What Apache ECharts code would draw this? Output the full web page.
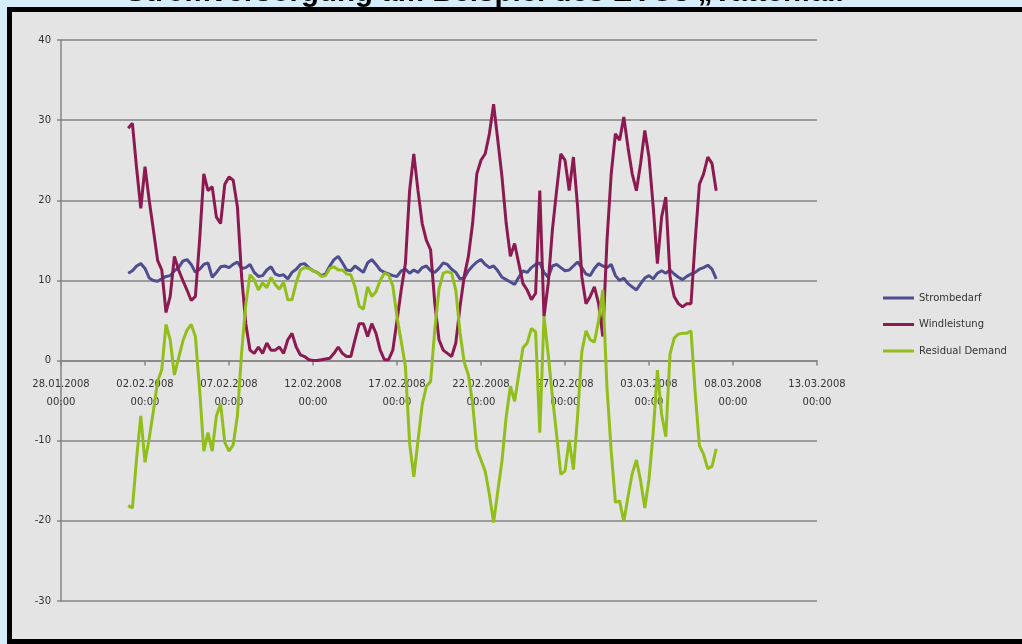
<!DOCTYPE html>
<html>
<head>
<meta charset="utf-8">
<title>Stromversorgung am Beispiel des EVUs „Vattenfall“</title>
<script src="https://cdn.jsdelivr.net/npm/echarts@6/dist/echarts.min.js"></script>
<style>
  html, body { margin: 0; padding: 0; background: #d5edfb; }
  #chart { width: 1022px; height: 644px; }
</style>
</head>
<body>
<div id="chart"></div>
<script>
// Time axis: days counted from 28.01.2008 00:00, one tick every 5 days
const tickLabels = [
  '28.01.2008\n00:00', '02.02.2008\n00:00', '07.02.2008\n00:00', '12.02.2008\n00:00',
  '17.02.2008\n00:00', '22.02.2008\n00:00', '27.02.2008\n00:00', '03.03.2008\n00:00',
  '08.03.2008\n00:00', '13.03.2008\n00:00'
];
const seriesStartDay = 4;   // 01.02.2008 00:00
const stepDays = 0.25;      // one value every 6 hours

// Strombedarf (GW)
const strombedarf = [
  10.9, 11.2, 11.8, 12.1, 11.5, 10.3, 10.0, 9.9, 10.2, 10.5, 10.6, 11.2, 11.6, 12.4, 12.6, 12.0,
  11.0, 11.4, 12.0, 12.2, 10.4, 11.0, 11.7, 11.8, 11.6, 12.0, 12.3, 11.5, 11.6, 12.0, 11.0, 10.5,
  10.6, 11.3, 11.7, 10.8, 10.6, 10.7, 10.2, 11.0, 11.4, 12.0, 12.1, 11.6, 11.2, 11.0, 10.6, 10.8,
  11.8, 12.6, 13.0, 12.2, 11.3, 11.2, 11.8, 11.4, 11.0, 12.2, 12.6, 12.0, 11.3, 11.0, 10.8, 10.6,
  10.5, 11.2, 11.4, 10.9, 11.3, 11.0, 11.6, 11.8, 11.2, 11.0, 11.5, 12.2, 12.0, 11.4, 11.0, 10.2,
  10.3, 11.2, 11.8, 12.3, 12.6, 12.0, 11.6, 11.8, 11.2, 10.4, 10.1, 9.8, 9.5, 10.4, 11.2, 11.0,
  11.6, 12.0, 12.2, 11.0, 10.4, 11.8, 12.0, 11.6, 11.2, 11.3, 11.8, 12.3, 11.6, 10.8, 10.6, 11.5,
  12.1, 11.8, 11.6, 12.0, 10.6, 10.0, 10.3, 9.6, 9.2, 8.8, 9.6, 10.3, 10.6, 10.2, 10.9, 11.2,
  10.9, 11.3, 10.8, 10.4, 10.1, 10.5, 10.8, 11.0, 11.4, 11.6, 11.9, 11.4, 10.2
];

// Windleistung (GW)
const windleistung = [
  29.0, 29.6, 24.0, 19.0, 24.2, 20.0, 16.3, 12.5, 11.3, 6.0, 8.0, 13.0, 11.3, 10.0, 8.8, 7.5,
  8.0, 15.0, 23.3, 21.2, 21.7, 17.9, 17.1, 22.0, 22.9, 22.5, 19.2, 10.5, 4.6, 1.3, 0.9, 1.7,
  0.9, 2.2, 1.3, 1.3, 1.7, 0.9, 2.6, 3.4, 1.7, 0.7, 0.5, 0.1, 0.0, 0.0, 0.1, 0.2,
  0.3, 0.9, 1.7, 0.9, 0.5, 0.5, 2.6, 4.6, 4.6, 3.0, 4.6, 3.4, 1.3, 0.1, 0.1, 1.3,
  5.0, 8.8, 12.1, 21.2, 25.8, 21.2, 17.1, 15.0, 13.8, 7.1, 2.6, 1.3, 0.9, 0.5, 2.2, 6.7,
  10.5, 13.0, 17.1, 23.3, 25.0, 25.8, 28.3, 32.0, 27.5, 22.9, 17.1, 13.0, 14.6, 12.1, 9.6, 8.8,
  7.6, 8.4, 21.2, 5.5, 9.6, 16.3, 21.2, 25.8, 25.0, 21.2, 25.4, 19.2, 10.5, 7.1, 8.0, 9.2,
  7.1, 3.0, 15.0, 23.3, 28.3, 27.5, 30.4, 26.6, 23.3, 21.2, 24.6, 28.7, 25.4, 19.2, 12.1, 17.9,
  20.4, 10.5, 8.0, 7.1, 6.7, 7.1, 7.1, 15.0, 22.0, 23.3, 25.4, 24.6, 21.2
];

// Residual Demand = Strombedarf - Windleistung (GW)
const residualDemand = [
  -18.1, -18.4, -12.2, -6.9, -12.7, -9.7, -6.3, -2.6, -1.1, 4.5, 2.6, -1.8, 0.3, 2.4, 3.8, 4.5,
  3.0, -3.6, -11.3, -9.0, -11.3, -6.9, -5.4, -10.2, -11.3, -10.5, -6.9, 1.0, 7.0, 10.7, 10.1, 8.8,
  9.7, 9.1, 10.4, 9.5, 8.9, 9.8, 7.6, 7.6, 9.7, 11.3, 11.6, 11.5, 11.2, 11.0, 10.5, 10.6,
  11.5, 11.7, 11.3, 11.3, 10.8, 10.7, 9.2, 6.8, 6.4, 9.2, 8.0, 8.6, 10.0, 10.9, 10.7, 9.3,
  5.5, 2.4, -0.7, -10.3, -14.5, -10.0, -5.5, -3.2, -2.6, 3.9, 8.9, 10.9, 11.1, 10.9, 8.8, 3.5,
  -0.2, -1.8, -5.3, -11.0, -12.4, -13.8, -16.7, -20.2, -16.3, -12.5, -7.0, -3.2, -5.1, -1.7, 1.6, 2.2,
  4.0, 3.6, -9.0, 5.5, 0.8, -4.5, -9.2, -14.2, -13.8, -9.9, -13.6, -6.9, 1.1, 3.7, 2.6, 2.3,
  5.0, 8.8, -3.4, -11.3, -17.7, -17.5, -20.1, -17.0, -14.1, -12.4, -15.0, -18.4, -14.8, -9.0, -1.2, -6.7,
  -9.5, 0.8, 2.8, 3.3, 3.4, 3.4, 3.7, -4.0, -10.6, -11.7, -13.5, -13.2, -11.0
];

const seriesNames = ['Strombedarf', 'Windleistung', 'Residual Demand'];
const seriesColors = ['#4d4d8f', '#8c1a50', '#92be1c'];

const yMin = -30, yMax = 40, yStep = 10;

function toPoints(values) {
  return values.map((v, i) => [seriesStartDay + i * stepDays, v]);
}

const gridBox = { left: 61, top: 40, width: 756, height: 561 };
// the date axis sits on the zero line of the value axis
const xAxisOffset = -gridBox.height * (0 - yMin) / (yMax - yMin);

const chart = echarts.init(document.getElementById('chart'), null, { renderer: 'canvas' });

const labelFont = 'DejaVu Sans, sans-serif';
const gridColor = '#858585';

chart.setOption({
  animation: false,
  backgroundColor: '#d5edfb',
  graphic: [
    {
      type: 'text',
      z: -20,
      x: 492,
      y: -7,
      style: {
        text: 'Stromversorgung am Beispiel des EVUs „Vattenfall“',
        fill: '#000',
        font: 'bold 29.5px "Liberation Sans", Arial, sans-serif',
        align: 'center',
        verticalAlign: 'middle'
      }
    },
    {
      type: 'rect',
      z: -10,
      shape: { x: 9.5, y: 9.5, width: 1040, height: 632 },
      style: { fill: '#e4e4e4', stroke: '#000', lineWidth: 5 }
    }
  ],
  grid: { ...gridBox, containLabel: false },
  legend: {
    orient: 'vertical',
    left: 878,
    top: 288,
    itemWidth: 31,
    itemHeight: 3,
    itemGap: 16.5,
    icon: 'rect',
    data: seriesNames,
    textStyle: { fontSize: 10, color: '#333', fontFamily: labelFont }
  },
  xAxis: {
    type: 'value',
    min: 0,
    max: 45,
    interval: 5,
    offset: xAxisOffset,
    axisLine: { onZero: false, lineStyle: { color: gridColor, width: 1.5 } },
    axisTick: { show: true, length: 5, lineStyle: { color: gridColor, width: 1.5 } },
    splitLine: { show: false },
    axisLabel: {
      formatter: v => tickLabels[Math.round(v / 5)],
      fontSize: 10,
      lineHeight: 18,
      margin: 15,
      color: '#333',
      fontFamily: labelFont
    }
  },
  yAxis: {
    type: 'value',
    min: yMin,
    max: yMax,
    interval: yStep,
    axisLine: { show: true, lineStyle: { color: gridColor, width: 1.5 } },
    axisTick: { show: true, length: 4, lineStyle: { color: gridColor, width: 1.5 } },
    splitLine: { show: true, lineStyle: { color: gridColor, width: 1.5 } },
    axisLabel: { fontSize: 10, margin: 10, color: '#333', fontFamily: labelFont }
  },
  series: [
    { name: seriesNames[0], data: toPoints(strombedarf) },
    { name: seriesNames[1], data: toPoints(windleistung) },
    { name: seriesNames[2], data: toPoints(residualDemand) }
  ].map((s, i) => ({
    ...s,
    type: 'line',
    symbol: 'none',
    showSymbol: false,
    color: seriesColors[i],
    lineStyle: { width: 3, color: seriesColors[i] },
    z: 2 + i
  }))
});
</script>
</body>
</html>
